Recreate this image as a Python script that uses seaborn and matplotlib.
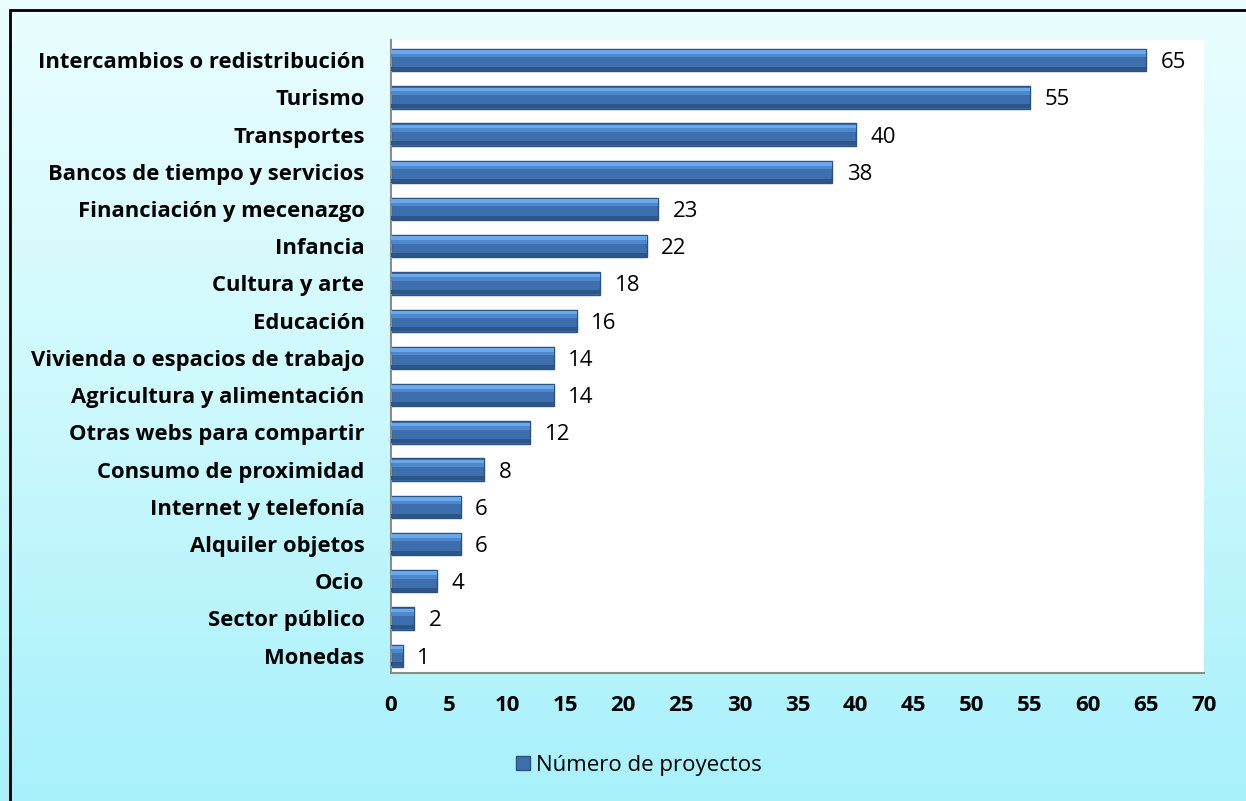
import numpy as np
import pandas as pd
import seaborn as sns
import matplotlib.pyplot as plt
from matplotlib.patches import Rectangle
from matplotlib.colors import LinearSegmentedColormap

categories = [
    "Intercambios o redistribución",
    "Turismo",
    "Transportes",
    "Bancos de tiempo y servicios",
    "Financiación y mecenazgo",
    "Infancia",
    "Cultura y arte",
    "Educación",
    "Vivienda o espacios de trabajo",
    "Agricultura y alimentación",
    "Otras webs para compartir",
    "Consumo de proximidad",
    "Internet y telefonía",
    "Alquiler objetos",
    "Ocio",
    "Sector público",
    "Monedas",
]
proyectos = [65, 55, 40, 38, 23, 22, 18, 16, 14, 14, 12, 8, 6, 6, 4, 2, 1]
x_ticks = list(range(0, 75, 5))
series_name = "Número de proyectos"


def main():
    sns.set_style("white")
    plt.rcParams["font.family"] = ["Open Sans", "DejaVu Sans"]
    plt.rcParams["text.color"] = "black"
    plt.rcParams["xtick.color"] = "black"
    plt.rcParams["ytick.color"] = "black"

    df = pd.DataFrame({"categoria": categories, "valor": proyectos})

    fig = plt.figure(figsize=(12.46, 8.01), dpi=100)

    # background gradient (light cyan)
    bg = fig.add_axes([0, 0, 1, 1], zorder=-10)
    grad = np.linspace(0, 1, 256).reshape(-1, 1)
    cmap = LinearSegmentedColormap.from_list("bg", ["#eafeff", "#cdf9fd", "#a8f1fb"])
    bg.imshow(grad, aspect="auto", cmap=cmap, extent=[0, 1, 0, 1])
    bg.add_patch(Rectangle((0.008, -0.05), 1.2, 1.038, fill=False,
                           edgecolor="black", linewidth=2, transform=bg.transAxes))
    bg.set_xlim(0, 1)
    bg.set_ylim(0, 1)
    bg.set_axis_off()

    ax = fig.add_axes([0.3138, 0.160, 0.6525, 0.790])
    ax.set_facecolor("white")

    sns.barplot(data=df, x="valor", y="categoria", ax=ax, orient="h",
                color="#3d6fae", width=0.6, edgecolor="#2b5180",
                linewidth=1, saturation=1)

    # shading: light band on top, darker band at the bottom
    for p in ax.patches[:]:
        y0 = p.get_y()
        h = p.get_height()
        w = p.get_width()
        ax.add_patch(Rectangle((0, y0 + h * 0.06), w, h * 0.16,
                               facecolor="#6aa8ec", edgecolor="none", zorder=3))
        ax.add_patch(Rectangle((0, y0 + h * 0.22), w, h * 0.16,
                               facecolor="#4f88cc", edgecolor="none", zorder=3))
        ax.add_patch(Rectangle((0, y0 + h * 0.80), w, h * 0.18,
                               facecolor="#2d5688", edgecolor="none", zorder=3))

    for i, v in enumerate(proyectos):
        ax.text(v + 1.25, i, str(v), va="center_baseline", ha="left",
                fontsize=16, color="black")

    ax.set_xlim(0, 70)
    ax.set_ylim(16.46, -0.54)
    ax.set_xticks(x_ticks)
    ax.set_xticklabels([str(t) for t in x_ticks], fontsize=16,
                       fontweight="bold")
    ax.tick_params(axis="x", length=0, pad=16)
    ax.tick_params(axis="y", length=0, pad=19, labelsize=15.8)
    for lbl in ax.get_yticklabels():
        lbl.set_fontweight("bold")
    ax.set_xlabel("")
    ax.set_ylabel("")

    for side in ["top", "right"]:
        ax.spines[side].set_visible(False)
    for side in ["left", "bottom"]:
        ax.spines[side].set_color("#8c8c8c")
        ax.spines[side].set_linewidth(1.5)

    handle = Rectangle((0, 0), 1, 1, facecolor="#3d6fae", edgecolor="#2b5180")
    fig.legend([handle], [series_name], loc="center",
               bbox_to_anchor=(0.513, 0.044), frameon=False, fontsize=16,
               handlelength=0.6, handleheight=0.6, handletextpad=0.3)

    fig.savefig("out.png", dpi=100)


if __name__ == "__main__":
    main()
